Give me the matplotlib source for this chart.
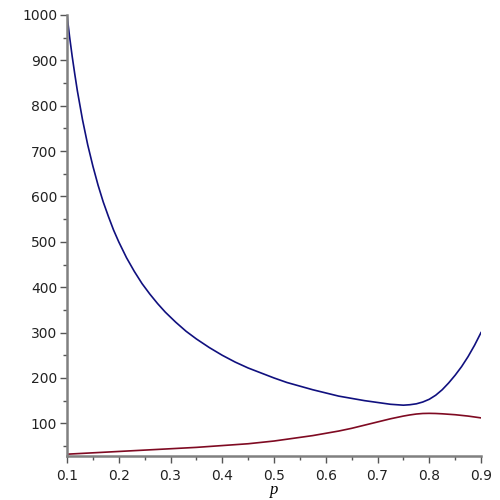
import matplotlib
matplotlib.use("Agg")
import matplotlib.pyplot as plt
from matplotlib.ticker import MultipleLocator

p_blue = [0.1, 0.105, 0.11, 0.115, 0.12, 0.13, 0.14, 0.15, 0.16, 0.17, 0.18,
          0.19, 0.2, 0.215, 0.23, 0.245, 0.26, 0.275, 0.29, 0.31, 0.33, 0.35,
          0.375, 0.4, 0.425, 0.45, 0.475, 0.5, 0.525, 0.55, 0.575, 0.6, 0.625,
          0.65, 0.675, 0.7, 0.725, 0.75, 0.7625, 0.775, 0.7875, 0.8, 0.8125,
          0.825, 0.8375, 0.85, 0.8625, 0.875, 0.8875, 0.9]
blue = [1000, 952, 909, 870, 833, 769, 714, 667, 625, 588, 556,
        526, 500, 465, 435, 408, 385, 364, 345, 323, 303, 286,
        267, 250, 235, 222, 211, 200, 190, 182, 174, 167, 160,
        155, 150, 146, 142, 140, 141, 143, 147, 153, 162,
        174, 189, 206, 225, 247, 272, 300]

p_red = [0.1, 0.125, 0.15, 0.175, 0.2, 0.225, 0.25, 0.275, 0.3, 0.325, 0.35,
         0.375, 0.4, 0.425, 0.45, 0.475, 0.5, 0.525, 0.55, 0.575, 0.6, 0.625,
         0.65, 0.675, 0.7, 0.725, 0.75, 0.7625, 0.775, 0.7875, 0.8, 0.8125,
         0.825, 0.85, 0.875, 0.9]
red = [32, 33.5, 35, 36.5, 38, 39.5, 41, 42.5, 44, 45.5, 47,
       49, 51, 53, 55, 58, 61, 65, 69, 73, 78, 83,
       89, 96, 103, 110, 116, 118.5, 120.5, 121.7, 122, 121.7,
       121, 119, 116, 112]

x_ticks = [0.1, 0.2, 0.3, 0.4, 0.5, 0.6, 0.7, 0.8, 0.9]
y_ticks = [100, 200, 300, 400, 500, 600, 700, 800, 900, 1000]

fig = plt.figure(figsize=(5, 5), dpi=100)
ax = fig.add_axes([0.134, 0.088, 0.828, 0.882])
ax.plot(p_blue, blue, color="#10107f", lw=1.2)
ax.plot(p_red, red, color="#7f0a22", lw=1.2)

ax.set_xlim(0.1, 0.9)
ax.set_ylim(28, 1000)
ax.set_xticks(x_ticks)
ax.set_yticks(y_ticks)
ax.set_xticklabels([f"{v:.1f}" for v in x_ticks])
ax.set_yticklabels([str(v) for v in y_ticks])
ax.xaxis.set_minor_locator(MultipleLocator(0.05))
ax.yaxis.set_minor_locator(MultipleLocator(50))

for s in ["top", "right"]:
    ax.spines[s].set_visible(False)
for s in ["left", "bottom"]:
    ax.spines[s].set_color("#808080")
    ax.spines[s].set_linewidth(1.8)

ax.tick_params(which="major", length=5, width=1, color="#555555",
               labelsize=10, labelcolor="#222222", pad=2)
ax.tick_params(which="minor", length=3, width=1, color="#555555")
ax.tick_params(axis="x", pad=4)

ax.set_xlabel("p", fontfamily="Liberation Serif", fontstyle="italic",
              fontsize=12, labelpad=0)

fig.savefig("out.png", dpi=100)
